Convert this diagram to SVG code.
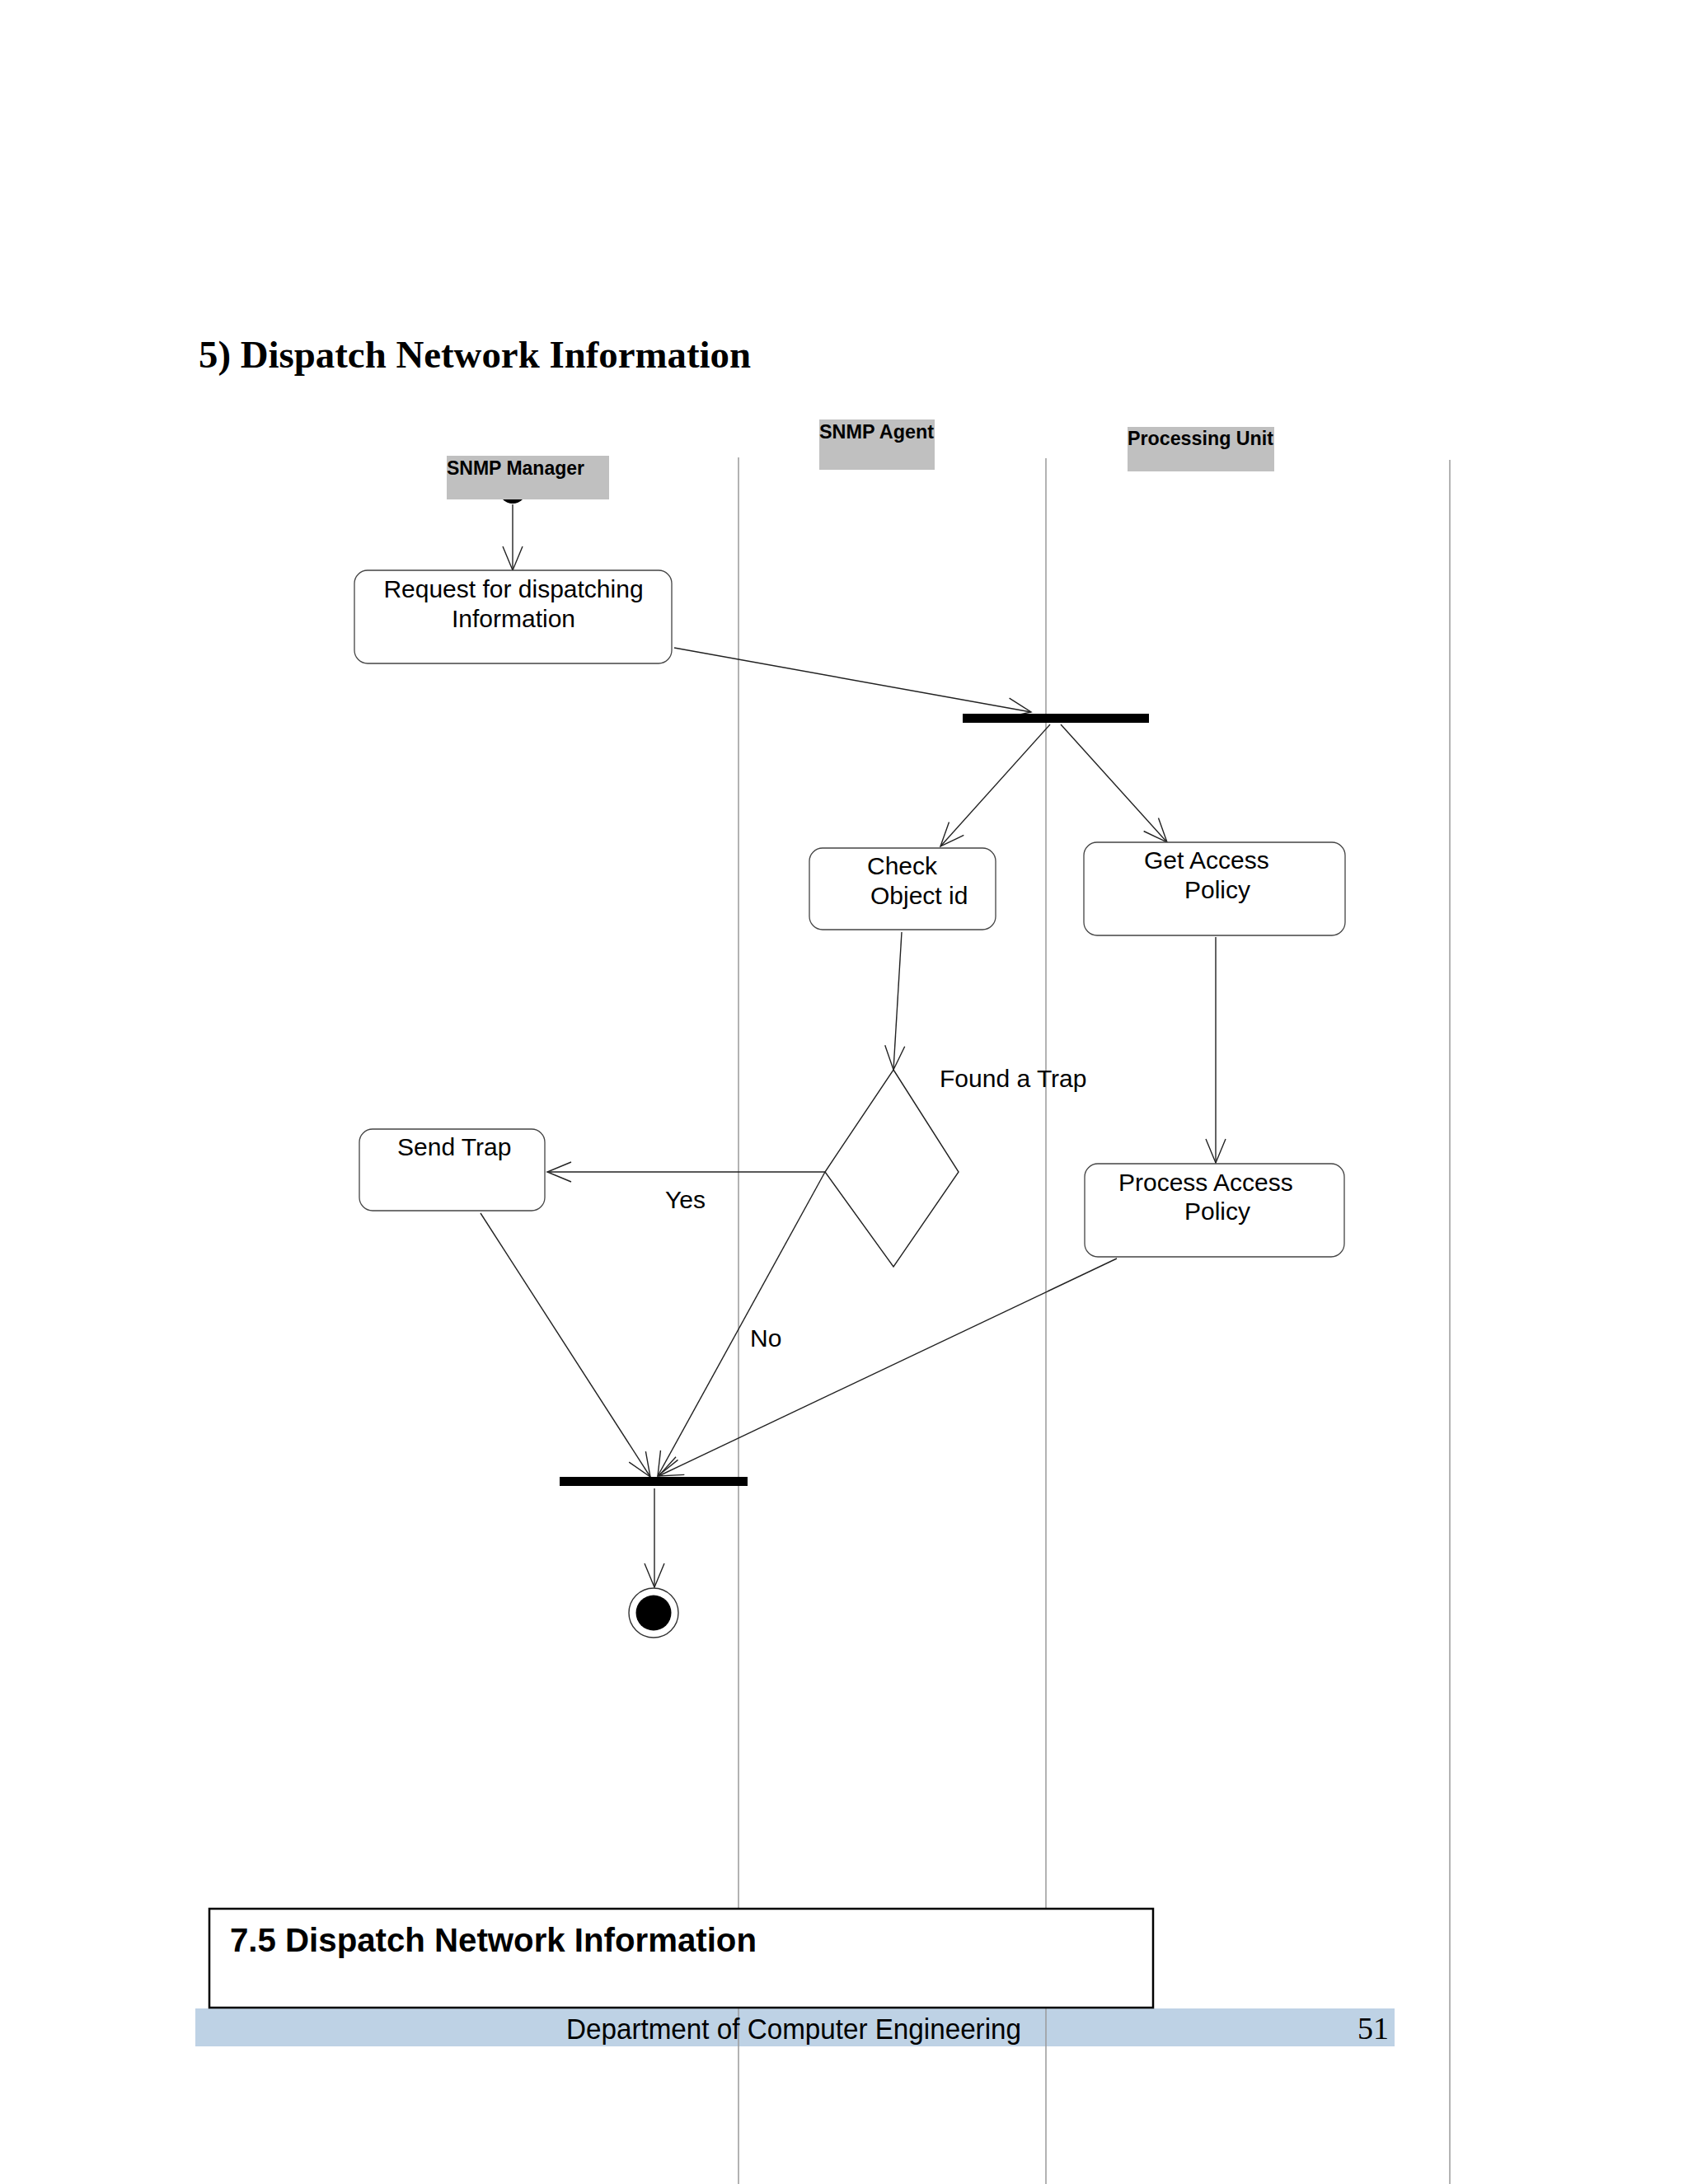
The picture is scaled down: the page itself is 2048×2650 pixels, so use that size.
<svg xmlns="http://www.w3.org/2000/svg" width="2048" height="2650" viewBox="0 0 2048 2650">
<style>
.lane{stroke:#9a9a9a;stroke-width:1.5;fill:none}
.hdr{fill:#c0c0c0}
.hdrt{font-family:"Liberation Sans",Arial,sans-serif;font-weight:bold;font-size:23px;fill:#000}
.act{fill:#fff;stroke:#444;stroke-width:1.3}
.t{font-family:"Liberation Sans",Arial,sans-serif;font-size:30px;fill:#000}
.c{fill:none;stroke:#222;stroke-width:1.4}
</style>
<defs>
<marker id="arr" markerUnits="userSpaceOnUse" viewBox="-32 -16 34 32" markerWidth="34" markerHeight="32" refX="0" refY="0" orient="auto">
<path d="M-29,-12 L0,0 L-29,12" fill="none" stroke="#222" stroke-width="1.4"/>
</marker>
</defs>
<rect x="0" y="0" width="2048" height="2650" fill="#fff"/>
<rect id="footer-band" x="237" y="2437" width="1455" height="46" fill="#bed2e5"/>
<g id="lanes">
<line class="lane" x1="896" y1="555" x2="896" y2="2650"/>
<line class="lane" x1="1269" y1="556" x2="1269" y2="2650"/>
<line class="lane" x1="1759" y1="558" x2="1759" y2="2650"/>
</g>
<text id="title" x="241" y="446" font-family="'Liberation Serif','Times New Roman',serif" font-weight="bold" font-size="47" textLength="670" lengthAdjust="spacingAndGlyphs">5) Dispatch Network Information</text>
<g id="initial"><circle cx="622" cy="594" r="17" fill="#000"/></g>
<g id="hdr-manager"><rect class="hdr" x="542" y="553" width="197" height="53"/><text class="hdrt" x="542" y="576" textLength="167" lengthAdjust="spacingAndGlyphs">SNMP Manager</text></g>
<g id="hdr-agent"><rect class="hdr" x="994" y="509" width="140" height="61"/><text class="hdrt" x="994" y="532" textLength="139" lengthAdjust="spacingAndGlyphs">SNMP Agent</text></g>
<g id="hdr-processing"><rect class="hdr" x="1368" y="518" width="178" height="54"/><text class="hdrt" x="1368" y="540" textLength="177" lengthAdjust="spacingAndGlyphs">Processing Unit</text></g>
<g id="connectors">
<line class="c" x1="622" y1="612" x2="622" y2="692" marker-end="url(#arr)"/>
<line class="c" x1="818" y1="786" x2="1251" y2="864" marker-end="url(#arr)"/>
<line class="c" x1="1274" y1="879" x2="1141" y2="1027" marker-end="url(#arr)"/>
<line class="c" x1="1287" y1="879" x2="1416" y2="1022" marker-end="url(#arr)"/>
<line class="c" x1="1094" y1="1131" x2="1084" y2="1298" marker-end="url(#arr)"/>
<line class="c" x1="1475" y1="1137" x2="1475" y2="1411" marker-end="url(#arr)"/>
<line class="c" x1="1001" y1="1422" x2="664" y2="1422" marker-end="url(#arr)"/>
<line class="c" x1="583" y1="1472" x2="789" y2="1792" marker-end="url(#arr)"/>
<line class="c" x1="1001" y1="1422" x2="798" y2="1791" marker-end="url(#arr)"/>
<line class="c" x1="1355" y1="1527" x2="799" y2="1791" marker-end="url(#arr)"/>
<line class="c" x1="794" y1="1806" x2="794" y2="1926" marker-end="url(#arr)"/>
</g>
<g id="request"><rect class="act" x="430" y="692" width="385" height="113" rx="16"/><text class="t" x="623" y="725" text-anchor="middle">Request for dispatching</text><text class="t" x="623" y="761" text-anchor="middle">Information</text></g>
<g id="fork"><rect x="1168" y="866" width="226" height="11" fill="#000"/></g>
<g id="check"><rect class="act" x="982" y="1029" width="226" height="99" rx="16"/><text class="t" x="1052" y="1061">Check</text><text class="t" x="1056" y="1097">Object id</text></g>
<g id="getaccess"><rect class="act" x="1315" y="1022" width="317" height="113" rx="16"/><text class="t" x="1388" y="1054">Get Access</text><text class="t" x="1437" y="1090">Policy</text></g>
<g id="decision"><polygon points="1084,1298 1163,1422 1084,1537 1001,1422" fill="none" stroke="#222" stroke-width="1.4"/></g>
<text class="t" x="1140" y="1319">Found a Trap</text>
<g id="sendtrap"><rect class="act" x="436" y="1370" width="225" height="99" rx="16"/><text class="t" x="482" y="1402">Send Trap</text></g>
<g id="processaccess"><rect class="act" x="1316" y="1412" width="315" height="113" rx="16"/><text class="t" x="1357" y="1445">Process Access</text><text class="t" x="1437" y="1480">Policy</text></g>
<text class="t" x="807" y="1466">Yes</text>
<text class="t" x="910" y="1634">No</text>
<g id="join"><rect x="679" y="1792" width="228" height="11" fill="#000"/></g>
<g id="final"><circle cx="793" cy="1957" r="30" fill="#fff" stroke="#333" stroke-width="1.4"/><circle cx="793" cy="1957" r="21.5" fill="#000"/></g>
<g id="caption"><rect x="254" y="2316" width="1145" height="120" fill="#fff" stroke="#000" stroke-width="2.5"/><text x="279" y="2368" font-family="'Liberation Sans',Arial,sans-serif" font-weight="bold" font-size="41" textLength="639" lengthAdjust="spacingAndGlyphs">7.5 Dispatch Network Information</text></g>
<g id="footer"><text x="687" y="2474" font-family="'Liberation Sans',Arial,sans-serif" font-size="35" textLength="552" lengthAdjust="spacingAndGlyphs">Department of Computer Engineering</text><text x="1647" y="2474" font-family="'Liberation Serif','Times New Roman',serif" font-size="38">51</text></g>
</svg>
